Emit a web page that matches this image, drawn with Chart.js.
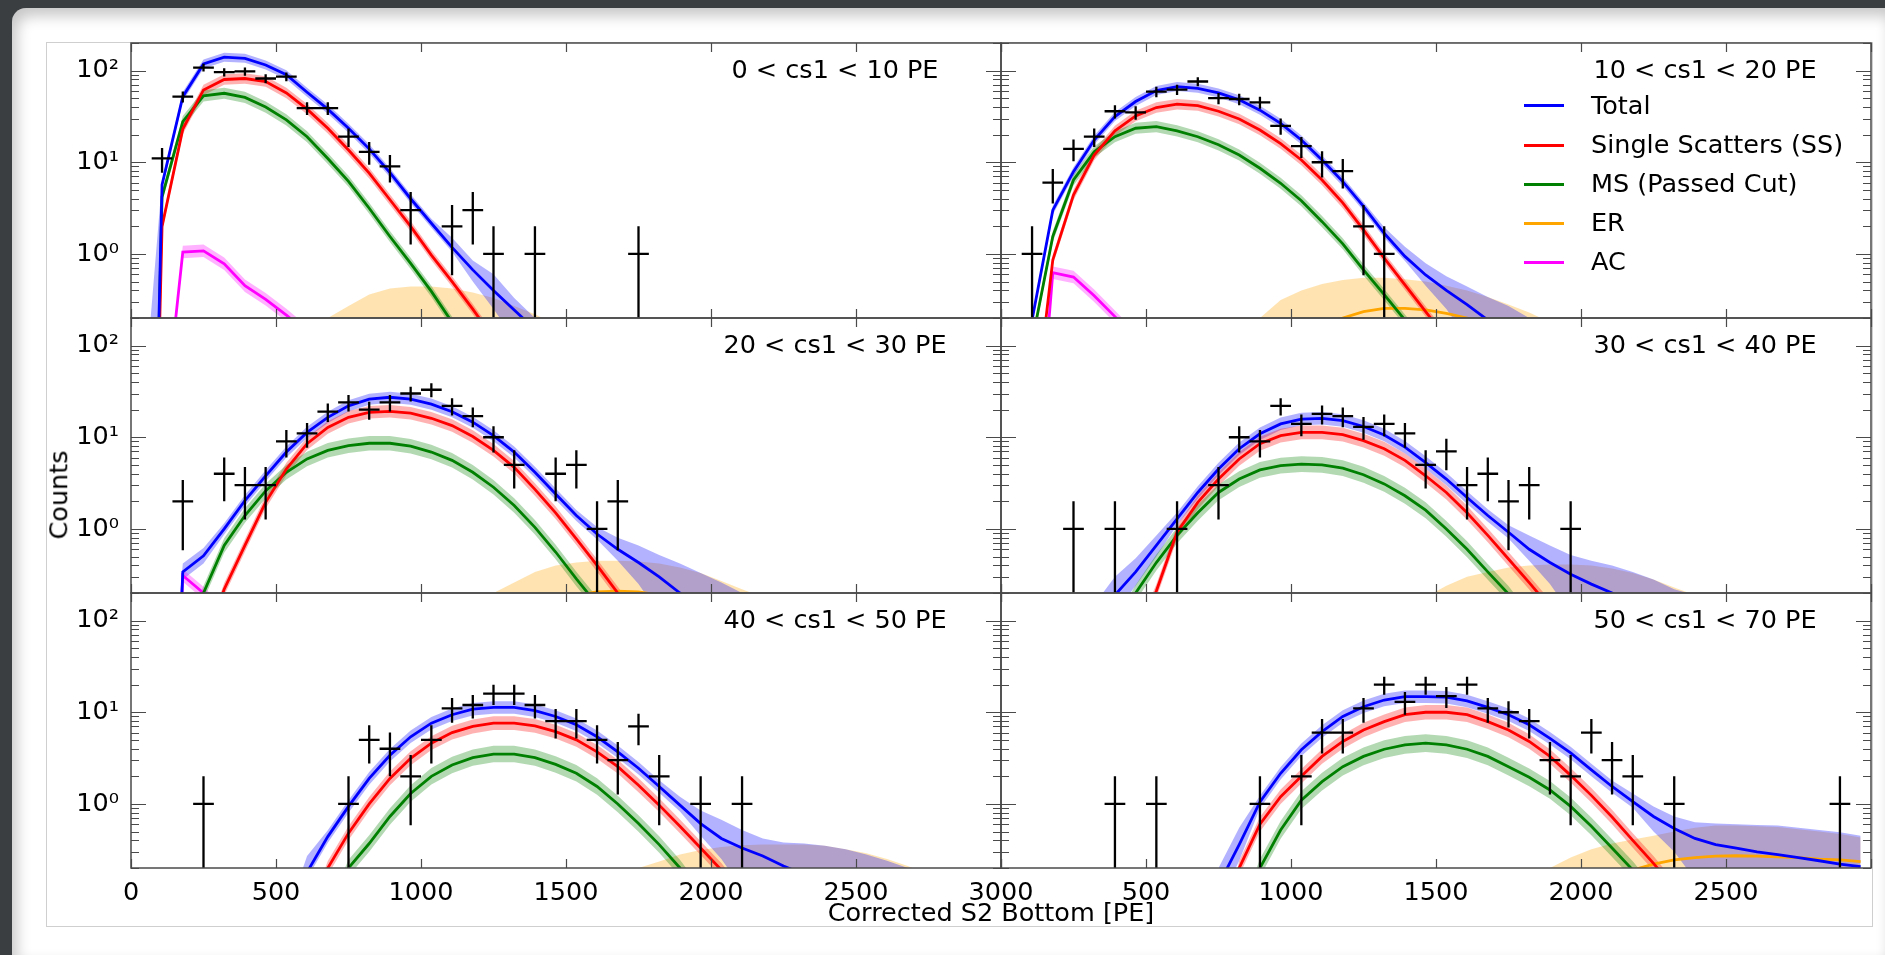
<!DOCTYPE html>
<html>
<head>
<meta charset="utf-8">
<script src="https://cdn.jsdelivr.net/npm/chart.js@4.4.1/dist/chart.umd.min.js"></script>
<style>
  body { margin:0; width:1885px; height:955px; overflow:hidden; position:relative;
         background:#3b3e41; font-family:'DejaVu Sans', sans-serif; }
  #card { position:absolute; left:12px; top:8px; width:1873px; height:947px; background:#fff;
          border-top-left-radius:14px; box-shadow: inset 5px 8px 14px rgba(0,0,0,0.22); }
  #frame { position:absolute; left:46px; top:42px; width:1827px; height:885px; box-sizing:border-box;
           border:1px solid #cfcfcf; background:#fff; }
  canvas { position:absolute; }
  .txt { position:absolute; font-size:25.5px; line-height:1; white-space:nowrap; color:#000;
         transform:translate(-50%,-50%); z-index:5; }
  .leg { position:absolute; font-size:25.5px; line-height:1; white-space:nowrap; color:#000;
         transform:translateY(-50%); z-index:5; }
  .hnd { position:absolute; width:40px; height:3px; z-index:5; }
</style>
</head>
<body>
<div id="card"></div>
<div id="frame"></div>
<script>
const _ = null;

// bin centres of the 42 S2 bins (PE)
const bins = [35.7, 107.1, 178.6, 250, 321.4, 392.9, 464.3, 535.7, 607.1, 678.6, 750, 821.4, 892.9, 964.3,
  1035.7, 1107.1, 1178.6, 1250, 1321.4, 1392.9, 1464.3, 1535.7, 1607.1, 1678.6, 1750, 1821.4, 1892.9, 1964.3,
  2035.7, 2107.1, 2178.6, 2250, 2321.4, 2392.9, 2464.3, 2535.7, 2607.1, 2678.6, 2750, 2821.4, 2892.9, 2964.3];
const binWidth = 71.43;
const xTicks = [0, 500, 1000, 1500, 2000, 2500, 3000];
const yMajor = [1, 10, 100];
const yMinor = [0.2, 0.3, 0.4, 0.5, 0.6, 0.7, 0.8, 0.9, 2, 3, 4, 5, 6, 7, 8, 9, 20, 30, 40, 50, 60, 70, 80, 90, 200];
const yLabels = {1: '10⁰', 10: '10¹', 100: '10²'};
const titles = ['0 < cs1 < 10 PE', '10 < cs1 < 20 PE', '20 < cs1 < 30 PE', '30 < cs1 < 40 PE', '40 < cs1 < 50 PE', '50 < cs1 < 70 PE'];
const legendNames = ['Total', 'Single Scatters (SS)', 'MS (Passed Cut)', 'ER', 'AC'];

// relative half-widths of the uncertainty bands, per panel
const bandTot = [0.12, 0.12, 0.15, 0.17, 0.17, 0.17];
const bandSS = [0.14, 0.14, 0.17, 0.19, 0.19, 0.20];
const bandMS = [0.15, 0.15, 0.20, 0.22, 0.23, 0.25];
const bandAC = [0.17, 0.17, 0.17];

// 0 < cs1 < 10
const counts1 = [0, 11, 52, 108, 96, 98, 82, 86, 39, 39, 19, 13, 9, 3, 0, 2, 3, 1, 0, 1, 0, 0, 0, 0, 1];
const tot1 = [1e-9, 5.7, 52, 118, 140, 136, 115, 90, 58, 38, 23.5, 14, 7.7, 4.0, 2.16, 1.18, 0.67, 0.40, 0.245, 0.15, 0.09];
const ss1 = [1e-9, 2.0, 23, 61.5, 80, 82, 76, 57, 38, 23.5, 13.6, 7.6, 3.9, 2.0, 0.97, 0.5, 0.25, 0.12, 0.06];
const ms1 = [1e-9, 4.2, 27.8, 53, 56.6, 51, 40, 29, 19, 11, 6.2, 3.15, 1.55, 0.79, 0.39, 0.18, 0.08];
const ac1 = [_, 0.008, 1.05, 1.08, 0.78, 0.45, 0.32, 0.215, 0.14, 0.09];
const er1 = [_, _, _, _, _, _, _, _, _, _, 0.06, 0.08, 0.1, 0.12, 0.13, 0.13, 0.12, 0.11, 0.09, 0.07];
const erHi1 = [_, _, _, _, _, _, _, _, 0.12, 0.2, 0.27, 0.36, 0.42, 0.44, 0.44, 0.42, 0.38, 0.33, 0.27, 0.22, 0.17, 0.13];
const totHi1 = {0: 0.012, 15: 1.5, 16: 0.85, 17: 0.6, 18: 0.33, 19: 0.2, 20: 0.12};
const totLo1 = {16: 0.5, 17: 0.25, 18: 0.12, 19: 0.05, 20: 0.03};

// 10 < cs1 < 20
const counts2 = [0, 1, 6, 14, 19, 36, 35, 59, 62, 76, 50, 49, 45, 25, 15, 10, 8, 2, 1];
const tot2 = [0.005, 0.19, 3.0, 7.9, 17.5, 31.5, 46, 60.5, 67, 64, 57, 48, 37, 26.6, 17.5, 10.6, 6.15, 3.3, 1.68, 0.94, 0.59, 0.40, 0.28, 0.19, 0.13, 0.09, 0.06];
const ss2 = [_, 0.01, 0.86, 4.4, 12, 22, 32, 39.5, 43, 41.5, 36, 29.7, 22.5, 16, 10.6, 6.4, 3.6, 1.83, 0.9, 0.46, 0.235, 0.12];
const ms2 = [_, 0.11, 1.55, 6.4, 13, 19, 23.5, 24.5, 22, 19, 15.5, 12, 8.6, 5.9, 3.8, 2.25, 1.29, 0.67, 0.36, 0.19, 0.1];
const ac2 = [_, 0.001, 0.625, 0.56, 0.35, 0.207, 0.12];
const er2 = [_, _, _, _, _, _, _, _, _, _, _, _, _, _, _, 0.17, 0.2, 0.235, 0.255, 0.255, 0.245, 0.225, 0.2, 0.17, 0.14];
const erHi2 = [_, _, _, _, _, _, _, _, _, _, _, 0.15, 0.2, 0.315, 0.4, 0.47, 0.52, 0.55, 0.55, 0.53, 0.5, 0.45, 0.4, 0.34, 0.28, 0.23, 0.18, 0.14];
const totHi2 = {0: 0.02, 18: 1.95, 19: 1.2, 20: 0.79, 21: 0.57, 22: 0.44, 23: 0.34, 24: 0.27, 25: 0.2, 26: 0.15};
const totLo2 = {20: 0.45, 21: 0.25, 22: 0.12, 23: 0.05, 24: 0.03, 25: 0.02, 26: 0.01};

// 20 < cs1 < 30
const counts3 = [0, 0, 2, 0, 4, 3, 3, 9, 11, 19, 24, 20, 24, 30, 33, 22, 17, 10, 5, 0, 4, 5, 1, 2];
const tot3 = [_, 1e-6, 0.34, 0.51, 1.0, 2.04, 3.8, 6.9, 11.3, 16.5, 22, 26, 27.3, 26, 23, 19, 14.6, 10.4, 6.9, 4.15, 2.4, 1.4, 0.88, 0.6, 0.43, 0.3, 0.2, 0.14, 0.1, 0.07, 0.05];
const ss3 = [_, _, _, 0.05, 0.22, 0.66, 1.95, 4.5, 8.5, 12.8, 16.5, 18.7, 19.2, 18.3, 16.1, 13.4, 10.2, 7.2, 4.7, 2.7, 1.5, 0.78, 0.4, 0.2, 0.1];
const ms3 = [_, _, 0.05, 0.2, 0.66, 1.4, 2.6, 4.15, 5.8, 7.2, 8.1, 8.6, 8.6, 8.0, 6.9, 5.6, 4.15, 2.85, 1.8, 1.04, 0.56, 0.285, 0.15, 0.08];
const ac3 = [_, 1e-6, 0.31, 0.2, 0.12];
const er3 = [_, _, _, _, _, _, _, _, _, _, _, _, _, _, _, _, _, _, 0.1, 0.13, 0.16, 0.19, 0.205, 0.21, 0.205, 0.19, 0.16, 0.13];
const erHi3 = [_, _, _, _, _, _, _, _, _, _, _, _, _, _, _, _, 0.14, 0.2, 0.26, 0.34, 0.4, 0.43, 0.45, 0.45, 0.44, 0.42, 0.38, 0.33, 0.27, 0.22, 0.18];
const totHi3 = {1: 0.001, 2: 0.42, 3: 0.62, 22: 1.05, 23: 0.8, 24: 0.66, 25: 0.52, 26: 0.42, 27: 0.33, 28: 0.26, 29: 0.2, 30: 0.15};
const totLo3 = {2: 0.28, 3: 0.42, 23: 0.45, 24: 0.25, 25: 0.12, 26: 0.05, 27: 0.03, 28: 0.02, 29: 0.01, 30: 0.01};

// 30 < cs1 < 40
const counts4 = [0, 0, 0, 1, 0, 1, 0, 0, 1, 0, 3, 10, 9, 22, 14, 18, 17, 13, 14, 11, 5, 7, 3, 4, 2, 3, 0, 1];
const tot4 = [_, _, _, 0.02, 0.08, 0.19, 0.34, 0.66, 1.29, 2.5, 4.5, 7.5, 10.9, 14, 15.8, 16.1, 15.2, 13.1, 10.6, 7.8, 5.3, 3.5, 2.2, 1.4, 0.92, 0.6, 0.43, 0.32, 0.25, 0.2, 0.15, 0.11, 0.08, 0.06, 0.04];
const ss4 = [_, _, _, _, _, _, 0.06, 0.21, 0.92, 1.95, 3.5, 5.8, 8.5, 10.4, 11.3, 11.3, 10.7, 9.2, 7.5, 5.6, 3.8, 2.5, 1.5, 0.85, 0.47, 0.26, 0.14, 0.07];
const ms4 = [_, _, _, _, _, 0.08, 0.2, 0.43, 0.85, 1.5, 2.5, 3.5, 4.4, 4.9, 5.1, 5.0, 4.6, 3.9, 3.1, 2.3, 1.6, 1.0, 0.6, 0.34, 0.195, 0.1];
const er4 = [_, _, _, _, _, _, _, _, _, _, _, _, _, _, _, _, _, _, _, _, _, _, 0.1, 0.12, 0.14, 0.15, 0.16, 0.16, 0.155, 0.145, 0.13, 0.11];
const erHi4 = [_, _, _, _, _, _, _, _, _, _, _, _, _, _, _, _, _, _, _, 0.13, 0.18, 0.24, 0.3, 0.34, 0.38, 0.4, 0.41, 0.41, 0.4, 0.37, 0.33, 0.28, 0.23, 0.19, 0.15];
const totHi4 = {3: 0.05, 4: 0.15, 5: 0.3, 6: 0.48, 7: 0.85, 24: 1.1, 25: 0.85, 26: 0.66, 27: 0.52, 28: 0.45, 29: 0.4, 30: 0.34, 31: 0.28, 32: 0.22, 33: 0.19, 34: 0.15};
const totLo4 = {5: 0.12, 6: 0.24, 7: 0.5, 25: 0.45, 26: 0.25, 27: 0.12, 28: 0.05, 29: 0.03, 30: 0.02, 31: 0.01, 32: 0.01, 33: 0.01, 34: 0.01};

// 40 < cs1 < 50
const counts5 = [0, 0, 0, 1, 0, 0, 0, 0, 0, 0, 1, 5, 4, 2, 5, 11, 12, 16, 16, 12, 8, 8, 5, 3, 7, 2, 0, 1, 0, 1];
const tot5 = [_, _, _, _, _, _, _, 0.03, 0.18, 0.44, 0.94, 1.9, 3.4, 5.4, 7.6, 9.4, 10.8, 11.3, 11.3, 10.4, 9.0, 7.3, 5.4, 3.7, 2.45, 1.55, 0.97, 0.61, 0.42, 0.33, 0.27, 0.21, 0.17, 0.13, 0.1, 0.08, 0.06, 0.05, 0.04];
const ss5 = [_, _, _, _, _, _, _, _, 0.05, 0.2, 0.48, 1.0, 1.9, 3.15, 4.6, 6.0, 7.0, 7.6, 7.6, 7.1, 6.15, 5.0, 3.7, 2.55, 1.6, 0.97, 0.57, 0.33, 0.19, 0.1];
const ms5 = [_, _, _, _, _, _, _, _, _, 0.06, 0.2, 0.37, 0.73, 1.3, 2.0, 2.66, 3.2, 3.5, 3.5, 3.2, 2.7, 2.16, 1.55, 1.0, 0.61, 0.36, 0.2, 0.1];
const er5 = [_, _, _, _, _, _, _, _, _, _, _, _, _, _, _, _, _, _, _, _, _, _, _, _, _, 0.08, 0.1, 0.12, 0.135, 0.145, 0.15, 0.15, 0.145, 0.135, 0.12, 0.1];
const erHi5 = [_, _, _, _, _, _, _, _, _, _, _, _, _, _, _, _, _, _, _, _, _, _, _, 0.15, 0.2, 0.235, 0.28, 0.315, 0.34, 0.355, 0.36, 0.36, 0.36, 0.35, 0.32, 0.29, 0.25, 0.21, 0.17];
const totHi5 = {7: 0.06, 8: 0.27, 26: 1.2, 27: 0.85, 28: 0.67, 29: 0.52, 30: 0.42, 31: 0.38, 32: 0.37, 33: 0.35, 34: 0.32, 35: 0.28, 36: 0.24, 37: 0.2, 38: 0.16};
const totLo5 = {27: 0.45, 28: 0.25, 29: 0.12, 30: 0.05, 31: 0.03, 32: 0.02, 33: 0.01, 34: 0.01, 35: 0.01, 36: 0.01, 37: 0.01, 38: 0.01};

// 50 < cs1 < 70
const counts6 = [0, 0, 0, 0, 0, 1, 0, 1, 0, 0, 0, 0, 1, 0, 2, 6, 6, 11, 20, 13, 20, 15, 20, 11, 10, 8, 3, 2, 6, 3, 2, 0, 1, 0, 0, 0, 0, 0, 0, 0, 1];
const tot6 = [_, _, _, _, _, _, _, _, _, _, 0.13, 0.36, 1.05, 2.16, 3.9, 6.15, 9.0, 11.5, 13.6, 14.8, 14.8, 14.6, 13.3, 11.3, 9.4, 7.3, 5.2, 3.6, 2.35, 1.55, 1.06, 0.73, 0.54, 0.42, 0.36, 0.33, 0.30, 0.28, 0.26, 0.24, 0.22, 0.207];
const ss6 = [_, _, _, _, _, _, _, _, _, _, 0.02, 0.2, 0.6, 1.2, 2.0, 3.3, 4.8, 6.4, 7.9, 9.4, 10, 10, 9.4, 7.9, 6.4, 4.8, 3.3, 2.05, 1.24, 0.72, 0.4, 0.225, 0.12];
const ms6 = [_, _, _, _, _, _, _, _, _, _, _, 0.05, 0.2, 0.52, 1.1, 1.75, 2.55, 3.3, 3.95, 4.4, 4.6, 4.4, 3.95, 3.3, 2.55, 1.95, 1.42, 0.94, 0.57, 0.33, 0.19, 0.1];
const er6 = [_, _, _, _, _, _, _, _, _, _, _, _, _, _, _, _, _, _, _, _, _, _, _, _, _, _, _, _, 0.13, 0.16, 0.19, 0.22, 0.245, 0.26, 0.27, 0.272, 0.27, 0.265, 0.26, 0.25, 0.245, 0.235];
const erHi6 = [_, _, _, _, _, _, _, _, _, _, _, _, _, _, _, _, _, _, _, _, _, _, _, _, _, 0.15, 0.2, 0.26, 0.32, 0.37, 0.41, 0.45, 0.5, 0.55, 0.58, 0.58, 0.57, 0.56, 0.53, 0.5, 0.47, 0.43];
const totHi6 = {10: 0.2, 11: 0.55, 29: 1.8, 30: 1.3, 31: 0.94, 32: 0.73, 33: 0.63, 34: 0.61, 35: 0.6, 36: 0.59, 37: 0.58, 38: 0.55, 39: 0.52, 40: 0.49, 41: 0.45};
const totLo6 = {10: 0.08, 11: 0.24, 31: 0.5, 32: 0.3, 33: 0.15, 34: 0.05, 35: 0.05, 36: 0.05, 37: 0.05, 38: 0.05, 39: 0.05, 40: 0.05, 41: 0.05};

const panels = [
  {counts: counts1, tot: tot1, ss: ss1, ms: ms1, ac: ac1, er: er1, erHi: erHi1, totHi: totHi1, totLo: totLo1},
  {counts: counts2, tot: tot2, ss: ss2, ms: ms2, ac: ac2, er: er2, erHi: erHi2, totHi: totHi2, totLo: totLo2},
  {counts: counts3, tot: tot3, ss: ss3, ms: ms3, ac: ac3, er: er3, erHi: erHi3, totHi: totHi3, totLo: totLo3},
  {counts: counts4, tot: tot4, ss: ss4, ms: ms4, ac: null, er: er4, erHi: erHi4, totHi: totHi4, totLo: totLo4},
  {counts: counts5, tot: tot5, ss: ss5, ms: ms5, ac: null, er: er5, erHi: erHi5, totHi: totHi5, totLo: totLo5},
  {counts: counts6, tot: tot6, ss: ss6, ms: ms6, ac: null, er: er6, erHi: erHi6, totHi: totHi6, totLo: totLo6},
];

const lineCol = {tot: '#0000ff', ss: '#ff0000', ms: '#008000', er: '#ffa500', ac: '#ff00ff'};
const fillCol = {tot: 'rgba(0,0,255,0.3)', ss: 'rgba(255,0,0,0.3)', ms: 'rgba(0,128,0,0.3)',
                 er: 'rgba(255,165,0,0.3)', ac: 'rgba(255,0,255,0.3)'};
const none = 'rgba(0,0,0,0)';

Chart.defaults.font.family = "'DejaVu Sans', sans-serif";
Chart.defaults.color = '#000';

function pts(vals) {
  return bins.map((x, i) => ({x, y: vals[i] ?? null}));
}

function buildDatasets(p, k) {
  const ds = [];
  const band = (mid, w, col, order, hiOv = {}, loOv = {}) => {
    const hi = bins.map((b, i) => hiOv[i] ?? (mid[i] != null ? mid[i] * (1 + w) : null));
    const lo = bins.map((b, i) => loOv[i] ?? (mid[i] != null ? mid[i] / (1 + w) : (hi[i] != null ? 0.01 : null)));
    ds.push({data: pts(lo), borderColor: none, borderWidth: 0, pointRadius: 0, fill: false, order});
    ds.push({data: pts(hi), borderColor: none, borderWidth: 0, pointRadius: 0, fill: '-1', backgroundColor: col, order});
  };
  const line = (mid, col, order) =>
    ds.push({data: pts(mid), borderColor: col, borderWidth: 2.8, pointRadius: 0, fill: false, order});

  ds.push({data: pts(p.erHi), borderColor: none, borderWidth: 0, pointRadius: 0, fill: 'start',
           backgroundColor: fillCol.er, order: 20});
  band(p.tot, bandTot[k], fillCol.tot, 19, p.totHi, p.totLo);
  band(p.ss, bandSS[k], fillCol.ss, 18);
  band(p.ms, bandMS[k], fillCol.ms, 17);
  if (p.ac) band(p.ac, bandAC[k], fillCol.ac, 16);
  line(p.er, lineCol.er, 9);
  if (p.ac) line(p.ac, lineCol.ac, 8);
  line(p.ms, lineCol.ms, 7);
  line(p.ss, lineCol.ss, 6);
  line(p.tot, lineCol.tot, 5);

  // data: poisson error bars + bin-width bars
  const cross = [];
  p.counts.forEach((n, i) => {
    if (!n) return;
    const x = bins[i], e = Math.sqrt(n);
    cross.push({x, y: Math.max(n - e, 0.01)}, {x, y: n + e}, {x, y: null},
               {x: x - binWidth / 2, y: n}, {x: x + binWidth / 2, y: n}, {x, y: null});
  });
  ds.push({data: cross, borderColor: '#000', borderWidth: 2.3, pointRadius: 0, fill: false, order: 1});
  return ds;
}

// inward ticks on all four sides and the axes box
const axesBox = {
  id: 'axesBox',
  afterDatasetsDraw(chart) {
    const {ctx, chartArea: a} = chart;
    const x = chart.scales.x, y = chart.scales.y;
    ctx.save();
    ctx.strokeStyle = '#4a4a4a';
    ctx.lineWidth = 1.2;
    ctx.beginPath();
    xTicks.forEach(v => {
      const px = Math.round(x.getPixelForValue(v)) + 0.5;
      ctx.moveTo(px, a.bottom); ctx.lineTo(px, a.bottom - 9);
      ctx.moveTo(px, a.top); ctx.lineTo(px, a.top + 9);
    });
    const yt = (v, len) => {
      const py = Math.round(y.getPixelForValue(v)) + 0.5;
      ctx.moveTo(a.left, py); ctx.lineTo(a.left + len, py);
      ctx.moveTo(a.right, py); ctx.lineTo(a.right - len, py);
    };
    yMajor.forEach(v => yt(v, 15));
    yMinor.forEach(v => yt(v, 8));
    ctx.stroke();
    ctx.lineWidth = 1.5;
    ctx.strokeRect(a.left, a.top, a.right - a.left, a.bottom - a.top);
    ctx.restore();
  }
};

const colLeft = [131, 1001], rowTop = [43, 318, 593];
const PW = 870, PH = 275, padL = 100, padT = 24, padR = 50, padB = 50;
const tickFont = {size: 25.5, family: "'DejaVu Sans', sans-serif"};

panels.forEach((p, k) => {
  const col = k % 2, row = Math.floor(k / 2);
  const c = document.createElement('canvas');
  c.width = padL + PW + padR;
  c.height = padT + PH + padB;
  c.style.left = (colLeft[col] - padL) + 'px';
  c.style.top = (rowTop[row] - padT) + 'px';
  document.body.appendChild(c);

  new Chart(c, {
    type: 'line',
    data: {datasets: buildDatasets(p, k)},
    options: {
      responsive: false, animation: false, events: [], devicePixelRatio: 1,
      layout: {padding: {top: padT, right: padR, left: 0, bottom: 0}},
      plugins: {legend: {display: false}, tooltip: {enabled: false}},
      scales: {
        x: {
          type: 'linear', min: 0, max: 3000,
          grid: {display: false}, border: {display: false},
          afterBuildTicks: s => { s.ticks = xTicks.map(v => ({value: v})); },
          afterFit: s => { s.height = padB; s.paddingLeft = 0; s.paddingRight = 0; },
          ticks: {display: row === 2, autoSkip: false, maxRotation: 0, padding: 2, font: tickFont, color: '#000',
                  callback: v => (col === 1 && (v === 0 || v === 3000)) ? '' : String(v)}
        },
        y: {
          type: 'logarithmic', min: 0.2, max: 200,
          grid: {display: false}, border: {display: false},
          afterBuildTicks: s => { s.ticks = yMajor.map(v => ({value: v})); },
          afterFit: s => { s.width = padL; s.paddingTop = 0; s.paddingBottom = 0; },
          ticks: {display: col === 0, padding: 4, font: tickFont, color: '#000', callback: v => yLabels[v] || ''}
        }
      }
    },
    plugins: [axesBox]
  });

  // panel label
  const t = document.createElement('div');
  t.className = 'txt';
  t.textContent = titles[k];
  t.style.left = (colLeft[col] + PW - 166) + 'px';
  t.style.top = (rowTop[row] + 27) + 'px';
  document.body.appendChild(t);
});

// legend in the second panel
const legY = [105.7, 145, 184, 223.3, 262.3];
const legCol = [lineCol.tot, lineCol.ss, lineCol.ms, lineCol.er, lineCol.ac];
legendNames.forEach((name, i) => {
  const h = document.createElement('div');
  h.className = 'hnd';
  h.style.left = '1524px';
  h.style.top = (legY[i] - 1.5) + 'px';
  h.style.background = legCol[i];
  document.body.appendChild(h);
  const l = document.createElement('div');
  l.className = 'leg';
  l.textContent = name;
  l.style.left = '1591px';
  l.style.top = legY[i] + 'px';
  document.body.appendChild(l);
});

// axis titles
const yt = document.createElement('div');
yt.className = 'txt';
yt.textContent = 'Counts';
yt.style.left = '59px';
yt.style.top = '495px';
yt.style.transform = 'translate(-50%,-50%) rotate(-90deg)';
document.body.appendChild(yt);

const xt = document.createElement('div');
xt.className = 'txt';
xt.textContent = 'Corrected S2 Bottom [PE]';
xt.style.left = '991px';
xt.style.top = '913px';
document.body.appendChild(xt);
</script>
</body>
</html>
